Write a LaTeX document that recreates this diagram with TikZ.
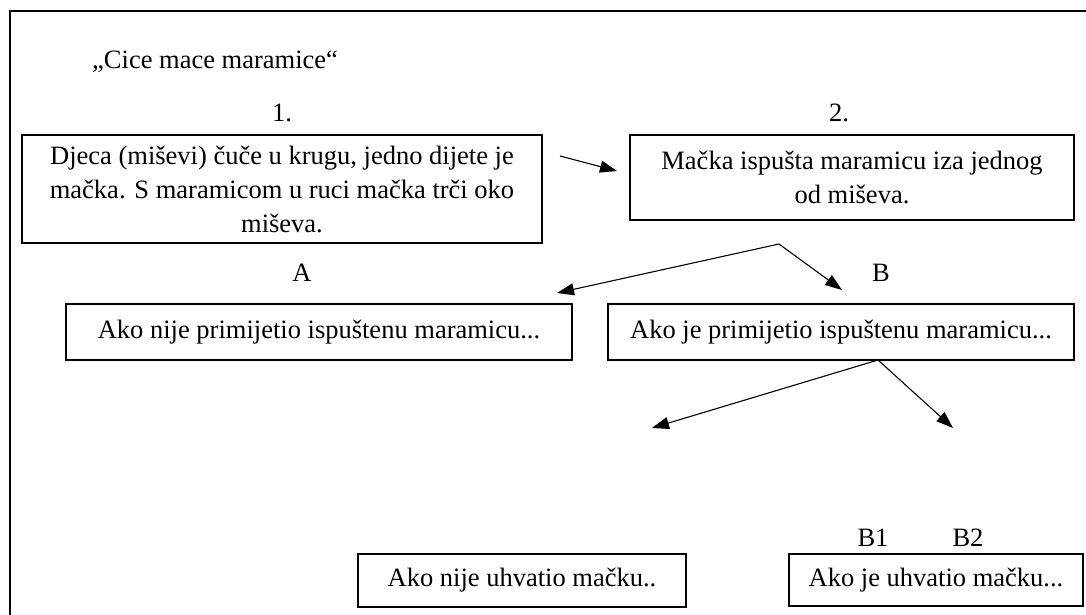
\documentclass[tikz,border=0pt]{standalone}
\usepackage{fontspec}
\setmainfont{Liberation Serif}
\usetikzlibrary{arrows.meta}
\begin{document}
\begin{tikzpicture}[x=1pt,y=-1pt,
  box/.style={draw, line width=1.1pt, inner sep=0pt, align=center, font=\fontsize{26.5}{34}\selectfont},
  lbl/.style={inner sep=0pt, font=\fontsize{26.5}{34}\selectfont},
  arr/.style={line width=1.1pt, -{Triangle[length=17pt,width=12pt]}}]
\useasboundingbox (0,0) rectangle (1086,615);
\draw[line width=2pt] (10,615) -- (10,11) -- (1086,11);
\node[lbl, anchor=west] (title) at (92,62) {„Cice mace maramice“};
\node[lbl] (n1) at (282,113) {1.};
\node[lbl] (n2) at (839,113) {2.};
\node[box, minimum width=520pt, minimum height=108pt] (b1) at (282,189) {Djeca (miševi) čuče u krugu, jedno dijete je\\mačka. S maramicom u ruci mačka trči oko\\miševa.};
\node[box, minimum width=444pt, minimum height=85pt] (b2) at (852,177.5) {Mačka ispušta maramicu iza jednog\\od miševa.};
\node[lbl] (la) at (302,273) {A};
\node[lbl] (lb) at (881,273) {B};
\node[box, minimum width=506pt, minimum height=56pt] (ba) at (319,332) {Ako nije primijetio ispuštenu maramicu...};
\node[box, minimum width=466pt, minimum height=56pt] (bb) at (841,332) {Ako je primijetio ispuštenu maramicu...};
\node[box, minimum width=328pt, minimum height=53pt] (bl) at (522,580.5) {Ako nije uhvatio mačku..};
\node[box, minimum width=294pt, minimum height=52pt] (br) at (936,580) {Ako je uhvatio mačku...};
\node[lbl] (lb1) at (873,538) {B1};
\node[lbl] (lb2) at (968,538) {B2};
\coordinate (s1) at (560,156);
\coordinate (t1) at (617,171);
\coordinate (p1) at (779,244);
\coordinate (ta) at (557,293);
\coordinate (tb) at (842,290);
\coordinate (p2) at (878,360);
\coordinate (tl) at (652,428);
\coordinate (tr) at (953,428);
\draw[arr] (s1) -- (t1);
\draw[arr] (p1) -- (ta);
\draw[arr] (p1) -- (tb);
\draw[arr] (p2) -- (tl);
\draw[arr] (p2) -- (tr);
\end{tikzpicture}
\end{document}
